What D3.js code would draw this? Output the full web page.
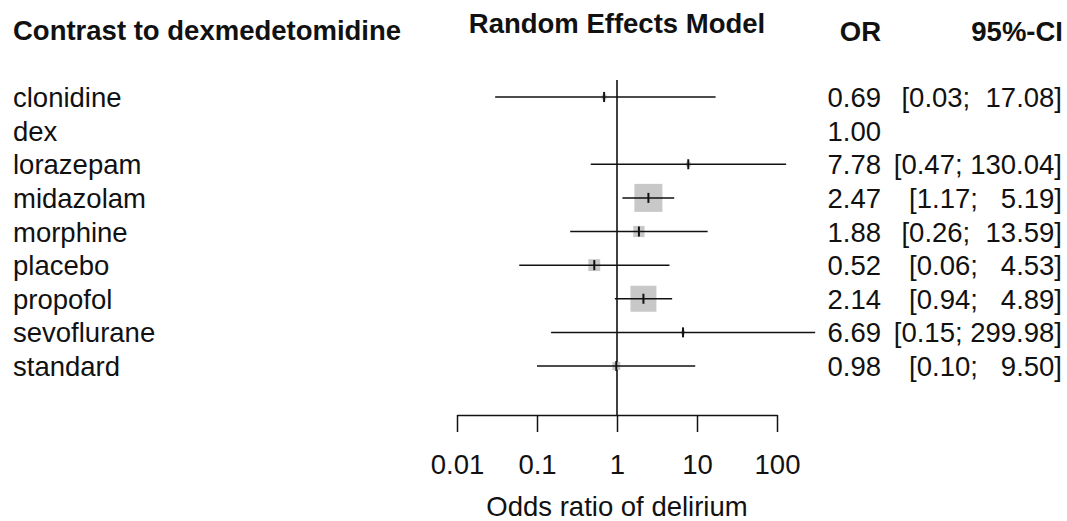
<!DOCTYPE html>
<html>
<head>
<meta charset="utf-8">
<script src="https://cdn.jsdelivr.net/npm/d3@7"></script>
<style>
  body { margin: 0; background: #fff; }
  text { font-family: "Liberation Sans", Arial, sans-serif; font-size: 27.5px; fill: #111; }
</style>
</head>
<body>
<svg id="chart" width="1067" height="521"></svg>
<script>
var treatments = ["clonidine", "dex", "lorazepam", "midazolam", "morphine", "placebo", "propofol", "sevoflurane", "standard"];
var oddsRatio = [0.69, 1.00, 7.78, 2.47, 1.88, 0.52, 2.14, 6.69, 0.98];
var lowerCI = [0.03, null, 0.47, 1.17, 0.26, 0.06, 0.94, 0.15, 0.10];
var upperCI = [17.08, null, 130.04, 5.19, 13.59, 4.53, 4.89, 299.98, 9.50];
var weights = [3, 0, 3, 100, 16, 18, 86, 2, 8];   // relative weight, % of largest
var tickValues = [0.01, 0.1, 1, 10, 100];
var tickLabels = ["0.01", "0.1", "1", "10", "100"];

var rows = treatments.map(function(t, i) {
  return {name: t, or: oddsRatio[i], lo: lowerCI[i], hi: upperCI[i], w: weights[i]};
});

var svg = d3.select("#chart");

var x = d3.scaleLog().domain([0.01, 100]).range([457, 777]);
var y = d3.scalePoint().domain(treatments).range([97, 366]);
var box = d3.scaleSqrt().domain([0, 100]).range([0, 28]);

var f2 = d3.format(".2f");

// pad upper limits to a common width, like R's format()
var hiWidth = d3.max(upperCI.filter(function(v) { return v != null; }), function(v) { return f2(v).length; });
function ciText(d) {
  var hi = f2(d.hi);
  while (hi.length < hiWidth) hi = " " + hi;
  return "[" + f2(d.lo) + "; " + hi + "]";
}

// headers
svg.append("text").attr("x", 13).attr("y", 40).style("font-weight", "bold")
  .text("Contrast to dexmedetomidine");
svg.append("text").attr("x", 617).attr("y", 33).attr("text-anchor", "middle").style("font-weight", "bold")
  .text("Random Effects Model");
svg.append("text").attr("x", 881).attr("y", 41).attr("text-anchor", "end").style("font-weight", "bold")
  .text("OR");
svg.append("text").attr("x", 1063).attr("y", 41).attr("text-anchor", "end").style("font-weight", "bold")
  .text("95%-CI");

// reference line at OR = 1
svg.append("line")
  .attr("x1", x(1)).attr("x2", x(1))
  .attr("y1", 80).attr("y2", 415)
  .attr("stroke", "#111").attr("stroke-width", 1.6);

var g = svg.append("g");

var row = g.selectAll("g.row")
  .data(rows)
  .enter().append("g")
  .attr("class", "row");

// squares
row.filter(function(d) { return d.w > 0; })
  .append("rect")
  .attr("x", function(d) { return x(d.or) - box(d.w) / 2; })
  .attr("y", function(d) { return y(d.name) - box(d.w) / 2; })
  .attr("width", function(d) { return box(d.w); })
  .attr("height", function(d) { return box(d.w); })
  .attr("fill", "#c8c8c8");

// CI lines
row.filter(function(d) { return d.lo != null; })
  .append("line")
  .attr("x1", function(d) { return x(d.lo); })
  .attr("x2", function(d) { return x(d.hi); })
  .attr("y1", function(d) { return y(d.name); })
  .attr("y2", function(d) { return y(d.name); })
  .attr("stroke", "#111").attr("stroke-width", 1.5);

// point estimate ticks
row.filter(function(d) { return d.lo != null; })
  .append("line")
  .attr("x1", function(d) { return x(d.or); })
  .attr("x2", function(d) { return x(d.or); })
  .attr("y1", function(d) { return y(d.name) - 5; })
  .attr("y2", function(d) { return y(d.name) + 5; })
  .attr("stroke", "#111").attr("stroke-width", 2);

// labels
row.append("text")
  .attr("x", 13)
  .attr("y", function(d) { return y(d.name) + 10; })
  .text(function(d) { return d.name; });

row.append("text")
  .attr("x", 881)
  .attr("y", function(d) { return y(d.name) + 10; })
  .attr("text-anchor", "end")
  .text(function(d) { return f2(d.or); });

row.filter(function(d) { return d.lo != null; })
  .append("text")
  .attr("x", 1062)
  .attr("y", function(d) { return y(d.name) + 10; })
  .attr("text-anchor", "end")
  .style("white-space", "pre")
  .attr("xml:space", "preserve")
  .text(ciText);

// x axis (ticks point down from the line)
var axis = svg.append("g")
  .attr("transform", "translate(0,415)")
  .call(d3.axisBottom(x).tickValues(tickValues)
    .tickFormat(function(d, i) { return tickLabels[i]; })
    .tickSize(17).tickSizeOuter(0).tickPadding(22));

axis.select(".domain").attr("stroke", "#111").attr("stroke-width", 1.5);
axis.selectAll(".tick line").attr("stroke", "#111").attr("stroke-width", 1.5);
axis.selectAll(".tick text")
  .attr("font-family", null).attr("font-size", null)
  .attr("fill", "#111");

svg.append("text")
  .attr("x", x(1)).attr("y", 516)
  .attr("text-anchor", "middle")
  .text("Odds ratio of delirium");
</script>
</body>
</html>
